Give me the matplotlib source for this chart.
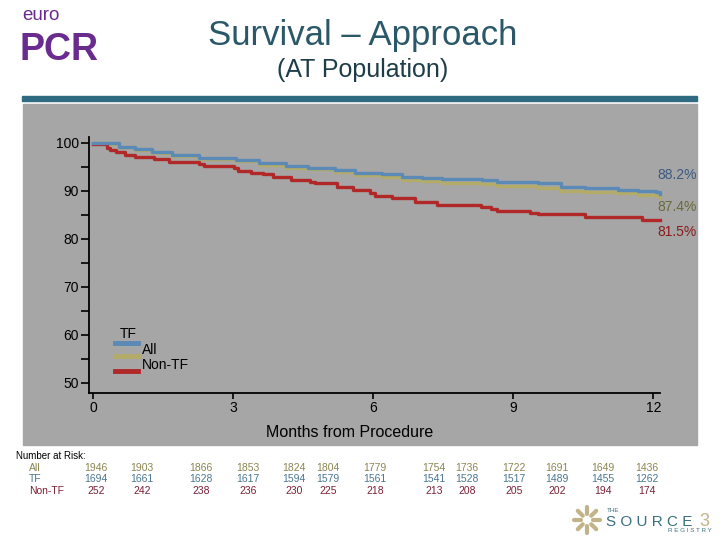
import matplotlib
matplotlib.use("Agg")
import matplotlib.pyplot as plt
import matplotlib.transforms as mtransforms
from matplotlib.patches import Rectangle
from matplotlib.lines import Line2D
import numpy as np

plt.rcParams['font.family'] = ['Liberation Sans', 'DejaVu Sans']

# Kaplan-Meier curves (months, survival %)
tf_months = [0, 0.26, 0.55, 0.9, 1.27, 1.7, 2.27, 3.06, 3.56, 4.14, 4.6, 5.18, 5.61,
             6.19, 6.62, 7.05, 7.48, 8.34, 8.66, 9.53, 10.03, 10.53, 11.25, 11.68, 12.05, 12.14]
tf_surv = [100, 99.9, 99.2, 98.75, 98.1, 97.4, 96.8, 96.5, 95.8, 95.2, 94.7, 94.4, 93.8,
           93.5, 93.0, 92.8, 92.5, 92.3, 91.9, 91.6, 90.9, 90.6, 90.2, 90.0, 89.7, 89.3]

all_months = [0, 0.26, 0.55, 0.9, 1.27, 1.7, 2.27, 3.06, 3.56, 4.14, 4.6, 5.18, 5.61,
              6.19, 6.62, 7.05, 7.48, 8.34, 8.66, 9.53, 10.03, 10.53, 11.25, 11.68, 12.05, 12.14]
all_surv = [100, 99.8, 99.1, 98.6, 98.0, 97.3, 96.7, 96.3, 95.5, 94.8, 94.5, 94.0, 93.4,
            92.9, 92.3, 92.0, 91.7, 91.4, 91.1, 90.6, 90.0, 89.8, 89.5, 89.2, 89.0, 88.6]

nontf_months = [0, 0.3, 0.37, 0.5, 0.69, 0.9, 1.3, 1.62, 2.27, 2.38, 3.02, 3.1, 3.38, 3.64,
                3.85, 4.25, 4.64, 4.75, 5.22, 5.57, 5.93, 6.04, 6.4, 6.9, 7.37, 8.3, 8.52,
                8.66, 9.35, 9.53, 10.53, 11.75, 12.14]
nontf_surv = [99.7, 99.0, 98.5, 98.1, 97.6, 97.1, 96.6, 96.1, 95.6, 95.2, 94.7, 94.2, 93.8,
              93.5, 93.0, 92.3, 91.9, 91.6, 90.9, 90.2, 89.5, 89.0, 88.5, 87.8, 87.1, 86.6,
              86.25, 85.8, 85.5, 85.15, 84.65, 83.95, 83.95]

end_labels = ["88.2%", "87.4%", "81.5%"]
end_label_y = [93.3, 86.7, 81.5]

# number at risk (column positions as printed in the table)
risk_months = [0.06, 1.05, 2.31, 3.32, 4.30, 5.03, 6.04, 7.30, 8.01, 9.01, 9.94, 10.92, 11.86]
risk_all = [1946, 1903, 1866, 1853, 1824, 1804, 1779, 1754, 1736, 1722, 1691, 1649, 1436]
risk_tf = [1694, 1661, 1628, 1617, 1594, 1579, 1561, 1541, 1528, 1517, 1489, 1455, 1262]
risk_nontf = [252, 242, 238, 236, 230, 225, 218, 213, 208, 205, 202, 194, 174]

c_tf = '#5a8ab5'
c_all = '#b3ab68'
c_non = '#b02828'
gray = '#a6a6a6'

fig = plt.figure(figsize=(7.2, 5.4), dpi=100)
fig.patch.set_facecolor('white')

def fx(px):
    return px / 720.0

def fy(py):
    return 1 - py / 540.0

# header band and grey panel
fig.patches.append(Rectangle((fx(22), fy(101)), fx(675), 5 / 540, transform=fig.transFigure,
                             color='#2e6a80', zorder=0))
fig.patches.append(Rectangle((fx(23), fy(445)), fx(674), 341 / 540, transform=fig.transFigure,
                             color=gray, zorder=0))

fig.text(fx(363), fy(35), "Survival \u2013 Approach", ha='center', va='center',
         fontsize=25, color='#2a5868')
fig.text(fx(363), fy(70), "(AT Population)", ha='center', va='center',
         fontsize=18, color='#1e3d48')

# euroPCR logo
fig.text(fx(22), fy(15), "euro", ha='left', va='center', fontsize=13.5, color='#6a2b8e')
fig.text(fx(19), fy(50), "PCR", ha='left', va='center', fontsize=27, fontweight='bold',
         color='#6a2b8e')

ax = fig.add_axes([fx(88.5), fy(393), (680 - 88.5) / 720, (393 - 137) / 540], zorder=2)
ax.set_facecolor(gray)
ax.plot(tf_months, tf_surv, drawstyle='steps-post', color=c_tf, lw=2.4, zorder=4)
ax.plot(all_months, all_surv, drawstyle='steps-post', color=c_all, lw=2.4, zorder=3)
ax.plot(nontf_months, nontf_surv, drawstyle='steps-post', color=c_non, lw=2.4, zorder=3)

for lab, yv, col in zip(end_labels, end_label_y, ['#3c5a82', '#6a6a3a', '#8a1a1a']):
    ax.text(12.08, yv, lab, ha='left', va='center', fontsize=10, color=col)

ax.set_xlim(-0.096, 12.57)
ax.set_ylim(47.9, 101.25)
ax.set_xticks([0, 3, 6, 9, 12])
ax.set_yticks([50, 60, 70, 80, 90, 100])
ax.set_yticks([55, 65, 75, 85, 95], minor=True)
ax.tick_params(axis='y', which='both', direction='out', length=6, width=1.2, pad=1,
               labelsize=10, color='black')
ax.tick_params(axis='x', which='major', direction='out', length=4, width=1.2, pad=2,
               labelsize=10)
ax.spines['top'].set_visible(False)
ax.spines['right'].set_visible(False)
ax.spines['left'].set_linewidth(1.3)
ax.spines['bottom'].set_linewidth(1.3)
ax.spines['bottom'].set_bounds(-0.096, 12.14)
ax.set_xlabel("Months from Procedure", fontsize=11.5)
ax.xaxis.set_label_coords((350 - 88.5) / 591.5, -0.125)

# legend drawn by hand
for yy, col in zip([0.1965, 0.1457, 0.0871], [c_tf, c_all, c_non]):
    ax.add_line(Line2D([0.0448, 0.0837], [yy, yy], transform=ax.transAxes, color=col, lw=3.5))
ax.text(0.053, 0.229, "TF", transform=ax.transAxes, fontsize=10, va='center', ha='left')
ax.text(0.0904, 0.168, "All", transform=ax.transAxes, fontsize=10, va='center', ha='left')
ax.text(0.0904, 0.109, "Non-TF", transform=ax.transAxes, fontsize=10, va='center', ha='left')

# number at risk table
fig.text(fx(16), fy(456), "Number at Risk:", fontsize=7, va='center', ha='left')
row_names = ["All", "TF", "Non-TF"]
row_y = [468, 479, 491]
row_cols = ['#8a8550', '#4a7590', '#7a2035']
row_vals = [risk_all, risk_tf, risk_nontf]
tr = mtransforms.blended_transform_factory(ax.transData, fig.transFigure)
for name, py, col, vals in zip(row_names, row_y, row_cols, row_vals):
    fig.text(fx(29), fy(py), name, fontsize=7.5, color=col, va='center', ha='left')
    for m, v in zip(risk_months, vals):
        ax.text(m, fy(py), str(v), transform=tr, fontsize=7.5, color=col,
                ha='center', va='center', clip_on=False)

# Source 3 registry logo
cx, cy = 587, 520
for ang in np.arange(0, 360, 45):
    a = np.deg2rad(ang)
    xs = [fx(cx + 6 * np.cos(a)), fx(cx + 13 * np.cos(a))]
    ys = [fy(cy - 6 * np.sin(a)), fy(cy - 13 * np.sin(a))]
    fig.add_artist(Line2D(xs, ys, transform=fig.transFigure, color='#c2b489', lw=3,
                          solid_capstyle='round'))
fig.text(fx(607), fy(511), "THE", fontsize=4.5, color='#3a6f80', va='center', ha='left')
fig.text(fx(606), fy(522), "S O U R C E", fontsize=11, color='#3a6f80', va='center',
         ha='left')
fig.text(fx(699), fy(521), "3", fontsize=13, color='#c2b489', va='center', ha='left')
fig.text(fx(712), fy(531), "R E G I S T R Y", fontsize=4.5, color='#3a6f80', va='center',
         ha='right')

fig.savefig("out.png", dpi=100)
